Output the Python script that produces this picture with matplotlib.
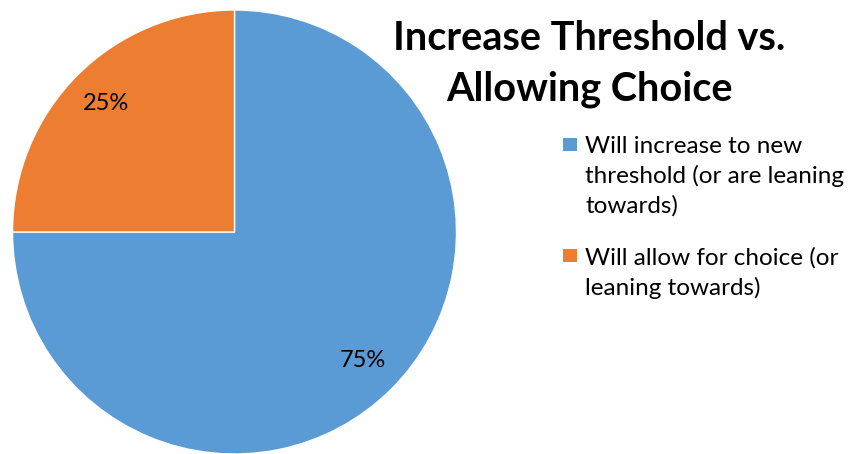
import matplotlib.pyplot as plt
from matplotlib.patches import Rectangle

plt.rcParams['font.family'] = ['Lato', 'DejaVu Sans']

labels = ["Will increase to new\nthreshold (or are leaning\ntowards)",
          "Will allow for choice (or\nleaning towards)"]
values = [75, 25]
colors = ["#5B9BD5", "#ED7D31"]

W, H = 857, 454
fig = plt.figure(figsize=(W / 100, H / 100), dpi=100)
ax = fig.add_axes([12 / W, 0 / H, 445 / W, 444 / H])

wedges, texts, autotexts = ax.pie(values, colors=colors, startangle=90, counterclock=False,
                                  autopct='%d%%', pctdistance=0.82,
                                  wedgeprops=dict(edgecolor='white', linewidth=1),
                                  textprops=dict(fontsize=17, color='black'))
ax.set_xlim(-1, 1)
ax.set_ylim(-1, 1)

fig.text(589 / W, 1 - 64 / H, "Increase Threshold vs.\nAllowing Choice",
         ha='center', va='center', fontsize=28.5, fontweight='bold', linespacing=1.42)

# legend drawn by hand so the square sits on the first line of each label
tops = [136, 247]
for top, lab, c in zip(tops, labels, colors):
    fig.patches.append(Rectangle((563 / W, 1 - (top + 15) / H), 14 / W, 13 / H,
                                 facecolor=c, transform=fig.transFigure))
    fig.text(585 / W, 1 - top / H, lab, ha='left', va='top', fontsize=17.5,
             linespacing=1.45)

fig.savefig("out.png", dpi=100)
